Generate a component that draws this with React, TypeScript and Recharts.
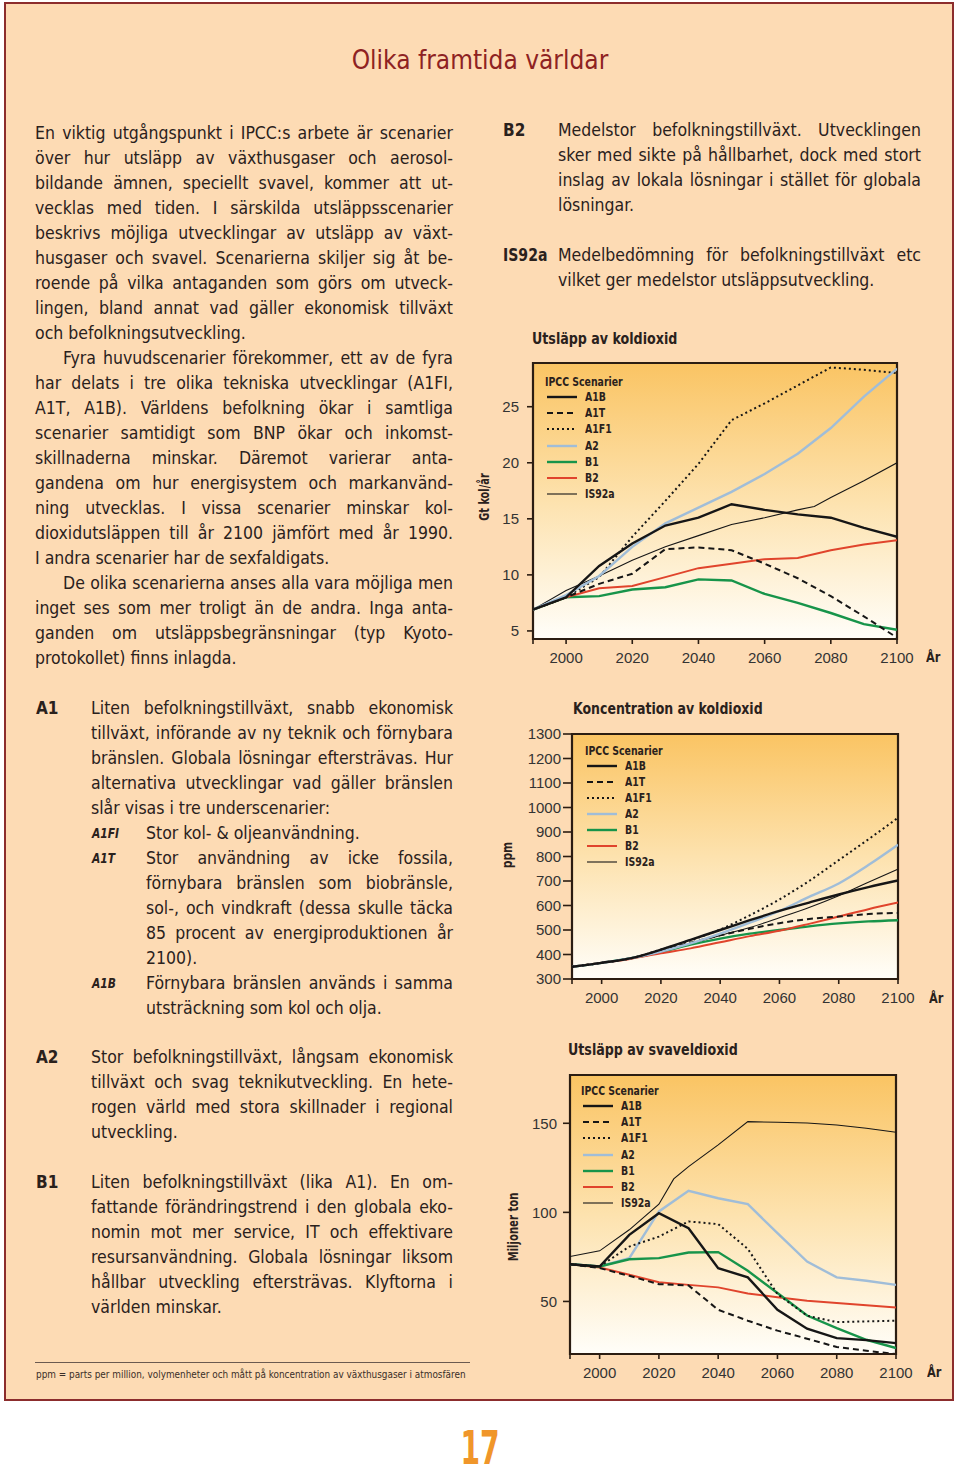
import React from "react";
import { LineChart, Line, XAxis, YAxis, CartesianGrid, ReferenceArea } from "recharts";

// years on the x axis (every 10 years)
const years = [1990, 2000, 2010, 2020, 2030, 2040, 2050, 2060, 2070, 2080, 2090, 2100];

// Utsläpp av koldioxid (Gt kol/år)
const co2A1B = [6.9, 8.0, 10.8, 12.8, 14.4, 15.1, 16.3, 15.8, 15.4, 15.1, 14.2, 13.4];
const co2A1T = [6.9, 8.0, 9.2, 10.1, 12.3, 12.45, 12.2, 11.0, 9.7, 8.1, 6.3, 4.4];
const co2A1F1 = [6.9, 8.0, 9.8, 13.4, 16.6, 19.9, 23.8, 25.3, 26.9, 28.5, 28.3, 28.0];
const co2A2 = [6.9, 8.2, 9.9, 12.5, 14.6, 16.0, 17.4, 19.0, 20.8, 23.1, 25.9, 28.4];
const co2B1 = [6.9, 8.0, 8.1, 8.7, 8.9, 9.6, 9.5, 8.3, 7.5, 6.6, 5.6, 5.1];
const co2B2 = [6.9, 8.0, 8.8, 9.0, 9.8, 10.6, 11.0, 11.4, 11.5, 12.2, 12.7, 13.1];
const co2IS92aYears = [1990, 2000, 2010, 2020, 2030, 2040, 2050, 2060, 2070, 2075, 2080, 2090, 2100];
const co2IS92a = [6.9, 8.6, 9.9, 11.3, 12.5, 13.5, 14.5, 15.1, 15.8, 16.1, 16.9, 18.4, 20.0];

// Koncentration av koldioxid (ppm)
const concA1B = [350, 366, 385, 420, 460, 500, 540, 578, 612, 645, 675, 702];
const concA1T = [350, 366, 385, 415, 448, 478, 505, 528, 545, 555, 565, 570];
const concA1F1 = [350, 366, 385, 420, 458, 502, 560, 625, 700, 785, 870, 958];
const concA2 = [350, 366, 385, 412, 445, 485, 530, 578, 635, 690, 765, 848];
const concB1 = [350, 366, 385, 410, 440, 465, 485, 500, 515, 527, 535, 540];
const concB2 = [350, 366, 383, 405, 425, 450, 475, 497, 525, 555, 585, 612];
const concIS92a = [350, 366, 385, 415, 445, 478, 510, 550, 592, 640, 695, 748];

// Utsläpp av svaveldioxid (miljoner ton)
const so2A1B = [70.9, 69.6, 87.4, 99.5, 91.1, 68.7, 63.5, 45.3, 34.7, 29.4, 28.3, 26.6];
const so2A1T = [70.9, 68.7, 64.4, 59.7, 59.0, 45.3, 39.2, 33.6, 29.1, 24.4, 22.3, 20.5];
const so2A1F1 = [70.9, 69.6, 80.8, 86.4, 94.9, 93.4, 79.5, 54.1, 42.0, 38.4, 38.8, 39.2];
const so2A2 = [70.9, 69.6, 74.3, 100.5, 112.1, 107.9, 104.6, 88.3, 72.4, 63.5, 61.6, 59.3];
const so2B1 = [70.9, 69.6, 73.7, 74.3, 77.5, 77.7, 67.2, 54.7, 42.1, 35.0, 28.5, 23.8];
const so2B2 = [70.9, 69.1, 65.0, 60.8, 59.3, 57.9, 54.5, 52.4, 50.4, 49.1, 47.8, 46.6];
const so2IS92aYears = [1990, 2000, 2010, 2020, 2025, 2030, 2040, 2050, 2060, 2070, 2080, 2090, 2100];
const so2IS92a = [75.2, 78.4, 90.2, 104.6, 118.8, 125.7, 137.9, 150.9, 150.6, 150.2, 149.0, 147.2, 145.0];

const co2Ticks = [5, 10, 15, 20, 25];
const concTicks = [300, 400, 500, 600, 700, 800, 900, 1000, 1100, 1200, 1300];
const so2Ticks = [50, 100, 150];
const legendNames = ["A1B", "A1T", "A1F1", "A2", "B1", "B2", "IS92a"];

const BODY = "'Liberation Sans Narrow', 'DejaVu Sans Condensed', 'Arial Narrow', 'Liberation Sans', sans-serif";
const INK = "#2a211c";
const FRAME = "#2b1d12";

const lineStyle: Record<string, any> = {
  A1B: { stroke: "#161616", strokeWidth: 2.4 },
  A1T: { stroke: "#161616", strokeWidth: 2, strokeDasharray: "6 4" },
  A1F1: { stroke: "#161616", strokeWidth: 2, strokeDasharray: "2 3" },
  A2: { stroke: "#a0bdd8", strokeWidth: 2.4 },
  B1: { stroke: "#17944a", strokeWidth: 2.4 },
  B2: { stroke: "#e0442c", strokeWidth: 2 },
  IS92a: { stroke: "#161616", strokeWidth: 1.1 },
};

type Series = { name: string; values: number[]; xs?: number[] };

function ScenarioChart(props: {
  plot: { l: number; t: number; r: number; b: number };
  yDomain: number[];
  yTicks: number[];
  ySize: number;
  yMargin: number;
  series: Series[];
  curve: "linear" | "monotone";
}) {
  const { plot, yDomain, yTicks, series, curve } = props;
  const padL = 80, padT = 20, padR = 30, padB = 40;
  const w = plot.r - plot.l + padL + padR;
  const h = plot.b - plot.t + padT + padB;
  return (
    <div style={{ position: "absolute", left: plot.l - padL, top: plot.t - padT }}>
      <LineChart width={w} height={h} margin={{ top: padT, right: padR, left: padL - 50, bottom: padB - 30 }}>
        <CartesianGrid fill="url(#plotGrad)" horizontal={false} vertical={false} />
        <XAxis
          dataKey="year"
          type="number"
          domain={[1990, 2100]}
          ticks={years}
          allowDataOverflow
          height={30}
          tickFormatter={(v: number) => (v === 1990 ? "" : String(v))}
          tickSize={5}
          tickMargin={8}
          axisLine={{ stroke: FRAME, strokeWidth: 2 }}
          tickLine={{ stroke: FRAME, strokeWidth: 1.6 }}
          tick={{ fill: "#333", fontSize: 15, fontFamily: "'Liberation Sans', sans-serif" }}
        />
        <YAxis
          type="number"
          domain={yDomain}
          ticks={yTicks}
          allowDataOverflow
          width={50}
          axisLine={false}
          tickSize={props.ySize}
          tickMargin={props.yMargin}
          tickLine={{ stroke: FRAME, strokeWidth: 1.6 }}
          tick={{ fill: "#333", fontSize: 15, fontFamily: "'Liberation Sans', sans-serif" }}
        />
        {series.map((s) => (
          <Line
            key={s.name}
            data={s.values.map((v, i) => ({ year: (s.xs || years)[i], v }))}
            dataKey="v"
            type={curve}
            dot={false}
            activeDot={false}
            isAnimationActive={false}
            {...lineStyle[s.name]}
          />
        ))}
        <ReferenceArea x1={1990} x2={2100} y1={yDomain[0]} y2={yDomain[1]} fill="none" stroke={FRAME} strokeWidth={2.2} />
      </LineChart>
    </div>
  );
}

function ChartLegend({ x, y, step }: { x: number; y: number; step: number }) {
  const narrow: React.CSSProperties = { display: "inline-block", transform: "scaleX(0.8)", transformOrigin: "0 50%" };
  return (
    <div style={{ position: "absolute", left: x, top: y - 8, fontFamily: BODY, fontWeight: 700, fontSize: 13, color: INK }}>
      <div style={{ height: 16, lineHeight: "16px", whiteSpace: "nowrap" }}>
        <span style={narrow}>IPCC Scenarier</span>
      </div>
      {legendNames.map((n, i) => (
        <div key={n} style={{ position: "absolute", left: 0, top: 16 + i * step - 1, height: 16, lineHeight: "16px", whiteSpace: "nowrap" }}>
          <svg width={32} height={16} style={{ position: "absolute", left: 2, top: 0 }}>
            <line x1={0} x2={30} y1={8} y2={8} {...lineStyle[n]} />
          </svg>
          <span style={{ ...narrow, position: "absolute", left: 40 }}>{n}</span>
        </div>
      ))}
    </div>
  );
}

function Txt(props: {
  x: number;
  cy: number;
  children: React.ReactNode;
  size?: number;
  bold?: boolean;
  italic?: boolean;
  color?: string;
  sx?: number;
}) {
  const size = props.size || 18;
  return (
    <div
      style={{
        position: "absolute",
        left: props.x,
        top: props.cy - 12.5,
        height: 25,
        lineHeight: "25px",
        whiteSpace: "nowrap",
        fontSize: size,
        fontWeight: props.bold ? 700 : 400,
        fontStyle: props.italic ? "italic" : "normal",
        color: props.color || INK,
        fontFamily: BODY,
        transform: props.sx ? `scaleX(${props.sx})` : undefined,
        transformOrigin: "0 50%",
      }}
    >
      {props.children}
    </div>
  );
}

function Para({ x, cy, width, lines, indent = 0 }: { x: number; cy: number; width: number; lines: string[]; indent?: number }) {
  return (
    <>
      {lines.map((ln, i) => {
        const last = i === lines.length - 1;
        const ind = i === 0 ? indent : 0;
        return (
          <div
            key={i}
            style={{
              position: "absolute",
              left: x + ind,
              top: cy + i * 25 - 12.5,
              width: width - ind,
              height: 25,
              lineHeight: "25px",
              fontSize: 17.5,
              fontFamily: BODY,
              color: INK,
              whiteSpace: "nowrap",
              textAlign: last ? "left" : "justify",
              textAlignLast: last ? "left" : "justify",
            }}
          >
            {ln}
          </div>
        );
      })}
    </>
  );
}

const introLines = [
  "En viktig utgångspunkt i IPCC:s arbete är scenarier",
  "över hur utsläpp av växthusgaser och aerosol-",
  "bildande ämnen, speciellt svavel, kommer att ut-",
  "vecklas med tiden. I särskilda utsläppsscenarier",
  "beskrivs möjliga utvecklingar av utsläpp av växt-",
  "husgaser och svavel. Scenarierna skiljer sig åt be-",
  "roende på vilka antaganden som görs om utveck-",
  "lingen, bland annat vad gäller ekonomisk tillväxt",
  "och befolkningsutveckling.",
];
const fyraLines = [
  "Fyra huvudscenarier förekommer, ett av de fyra",
  "har delats i tre olika tekniska utvecklingar (A1FI,",
  "A1T, A1B). Världens befolkning ökar i samtliga",
  "scenarier samtidigt som BNP ökar och inkomst-",
  "skillnaderna minskar. Däremot varierar anta-",
  "gandena om hur energisystem och markanvänd-",
  "ning utvecklas. I vissa scenarier minskar kol-",
  "dioxidutsläppen till år 2100 jämfört med år 1990.",
  "I andra scenarier har de sexfaldigats.",
];
const olikaLines = [
  "De olika scenarierna anses alla vara möjliga men",
  "inget ses som mer troligt än de andra. Inga anta-",
  "ganden om utsläppsbegränsningar (typ Kyoto-",
  "protokollet) finns inlagda.",
];
const b2Lines = [
  "Medelstor befolkningstillväxt. Utvecklingen",
  "sker med sikte på hållbarhet, dock med stort",
  "inslag av lokala lösningar i stället för globala",
  "lösningar.",
];
const is92Lines = ["Medelbedömning för befolkningstillväxt etc", "vilket ger medelstor utsläppsutveckling."];
const a1Lines = [
  "Liten befolkningstillväxt, snabb ekonomisk",
  "tillväxt, införande av ny teknik och förnybara",
  "bränslen. Globala lösningar eftersträvas. Hur",
  "alternativa utvecklingar vad gäller bränslen",
  "slår visas i tre underscenarier:",
];
const a1fiLines = ["Stor kol- & oljeanvändning."];
const a1tLines = [
  "Stor användning av icke fossila,",
  "förnybara bränslen som biobränsle,",
  "sol-, och vindkraft (dessa skulle täcka",
  "85 procent av energiproduktionen år",
  "2100).",
];
const a1bLines = ["Förnybara bränslen används i samma", "utsträckning som kol och olja."];
const a2Lines = [
  "Stor befolkningstillväxt, långsam ekonomisk",
  "tillväxt och svag teknikutveckling. En hete-",
  "rogen värld med stora skillnader i regional",
  "utveckling.",
];
const b1Lines = [
  "Liten befolkningstillväxt (lika A1). En om-",
  "fattande förändringstrend i den globala eko-",
  "nomin mot mer service, IT och effektivare",
  "resursanvändning. Globala lösningar liksom",
  "hållbar utveckling eftersträvas. Klyftorna i",
  "världen minskar.",
];

function RotLabel({ cx, cy, text, sx = 0.82 }: { cx: number; cy: number; text: string; sx?: number }) {
  return (
    <div
      style={{
        position: "absolute",
        left: cx - 60,
        top: cy - 10,
        width: 120,
        height: 20,
        lineHeight: "20px",
        textAlign: "center",
        transform: `rotate(-90deg) scaleX(${sx})`,
        fontFamily: BODY,
        fontWeight: 700,
        fontSize: 14,
        color: INK,
      }}
    >
      {text}
    </div>
  );
}

export default function App() {
  const co2Series: Series[] = [
    { name: "IS92a", values: co2IS92a, xs: co2IS92aYears },
    { name: "B1", values: co2B1 },
    { name: "B2", values: co2B2 },
    { name: "A1T", values: co2A1T },
    { name: "A1F1", values: co2A1F1 },
    { name: "A2", values: co2A2 },
    { name: "A1B", values: co2A1B },
  ];
  const concSeries: Series[] = [
    { name: "B1", values: concB1 },
    { name: "B2", values: concB2 },
    { name: "A1T", values: concA1T },
    { name: "IS92a", values: concIS92a },
    { name: "A2", values: concA2 },
    { name: "A1F1", values: concA1F1 },
    { name: "A1B", values: concA1B },
  ];
  const so2Series: Series[] = [
    { name: "IS92a", values: so2IS92a, xs: so2IS92aYears },
    { name: "A2", values: so2A2 },
    { name: "B2", values: so2B2 },
    { name: "B1", values: so2B1 },
    { name: "A1T", values: so2A1T },
    { name: "A1F1", values: so2A1F1 },
    { name: "A1B", values: so2A1B },
  ];

  return (
    <div style={{ position: "absolute", left: 0, top: 0, width: 960, height: 1476, background: "#ffffff", overflow: "hidden" }}>
      <svg width={0} height={0} style={{ position: "absolute" }}>
        <defs>
          <linearGradient id="plotGrad" x1="0" y1="0" x2="0" y2="1">
            <stop offset="0%" stopColor="#fac463" />
            <stop offset="50%" stopColor="#fde2ae" />
            <stop offset="100%" stopColor="#fffef9" />
          </linearGradient>
        </defs>
      </svg>
      <div
        style={{
          position: "absolute",
          left: 4,
          top: 2,
          width: 946,
          height: 1395,
          background: "#fddbb4",
          border: "2px solid #8c2d2d",
        }}
      />
      <div
        style={{
          position: "absolute",
          left: 0,
          top: 42,
          width: 960,
          textAlign: "center",
          fontFamily: BODY,
          fontSize: 26,
          color: "#8e2222",
          lineHeight: "36px",
        }}
      >
        Olika framtida världar
      </div>

      {/* left column text */}
      <Para x={35} cy={133} width={418} lines={introLines} />
      <Para x={35} cy={358} width={418} lines={fyraLines} indent={28} />
      <Para x={35} cy={583} width={418} lines={olikaLines} indent={28} />

      {/* right column text */}
      <Txt x={503} cy={130} bold size={17}>B2</Txt>
      <Para x={558} cy={130} width={363} lines={b2Lines} />
      <Txt x={503} cy={255} bold size={17} sx={0.92}>IS92a</Txt>
      <Para x={558} cy={255} width={363} lines={is92Lines} />

      <Txt x={36} cy={708} bold size={17}>A1</Txt>
      <Para x={91} cy={708} width={362} lines={a1Lines} />
      <Txt x={92} cy={833} bold italic size={14} sx={0.85}>A1FI</Txt>
      <Para x={146} cy={833} width={307} lines={a1fiLines} />
      <Txt x={92} cy={858} bold italic size={14} sx={0.85}>A1T</Txt>
      <Para x={146} cy={858} width={307} lines={a1tLines} />
      <Txt x={92} cy={983} bold italic size={14} sx={0.85}>A1B</Txt>
      <Para x={146} cy={983} width={307} lines={a1bLines} />

      <Txt x={36} cy={1057} bold size={17}>A2</Txt>
      <Para x={91} cy={1057} width={362} lines={a2Lines} />
      <Txt x={36} cy={1182} bold size={17}>B1</Txt>
      <Para x={91} cy={1182} width={362} lines={b1Lines} />

      {/* chart 1 */}
      <Txt x={532} cy={338} bold size={16} sx={0.88}>Utsläpp av koldioxid</Txt>
      <ScenarioChart
        plot={{ l: 533, t: 363, r: 897, b: 639 }}
        yDomain={[4.28, 28.9]}
        yTicks={co2Ticks}
        ySize={6}
        yMargin={8}
        series={co2Series}
        curve="linear"
      />
      <RotLabel cx={484} cy={497} text="Gt kol/år" sx={0.78} />
      <Txt x={926} cy={657} bold size={14} sx={0.9}>År</Txt>
      <ChartLegend x={545} y={382} step={16.2} />

      {/* chart 2 */}
      <Txt x={573} cy={708} bold size={16} sx={0.87}>Koncentration av koldioxid</Txt>
      <ScenarioChart
        plot={{ l: 572, t: 734, r: 898, b: 979 }}
        yDomain={[300, 1300]}
        yTicks={concTicks}
        ySize={9}
        yMargin={2}
        series={concSeries}
        curve="monotone"
      />
      <RotLabel cx={507} cy={855} text="ppm" sx={0.85} />
      <Txt x={929} cy={998} bold size={14} sx={0.9}>År</Txt>
      <ChartLegend x={585} y={751} step={16} />

      {/* chart 3 */}
      <Txt x={568} cy={1049} bold size={16} sx={0.88}>Utsläpp av svaveldioxid</Txt>
      <ScenarioChart
        plot={{ l: 570, t: 1075, r: 896, b: 1354 }}
        yDomain={[20.5, 177.1]}
        yTicks={so2Ticks}
        ySize={7}
        yMargin={6}
        series={so2Series}
        curve="linear"
      />
      <RotLabel cx={513} cy={1227} text="Miljoner ton" sx={0.8} />
      <Txt x={927} cy={1372} bold size={14} sx={0.9}>År</Txt>
      <ChartLegend x={581} y={1091} step={16.2} />

      {/* footnote */}
      <div style={{ position: "absolute", left: 35, top: 1362, width: 435, height: 1, background: "#6b5a50" }} />
      <Txt x={36} cy={1374} size={9.9} color="#3a2e28">
        ppm = parts per million, volymenheter och mått på koncentration av växthusgaser i atmosfären
      </Txt>

      <div
        style={{
          position: "absolute",
          left: 0,
          top: 1421,
          width: 960,
          height: 54,
          textAlign: "center",
          fontFamily: BODY,
          fontWeight: 700,
          fontSize: 46,
          lineHeight: "54px",
          color: "#f0962a",
          transform: "scaleX(0.68)",
          transformOrigin: "480px 50%",
        }}
      >
        17
      </div>
    </div>
  );
}
